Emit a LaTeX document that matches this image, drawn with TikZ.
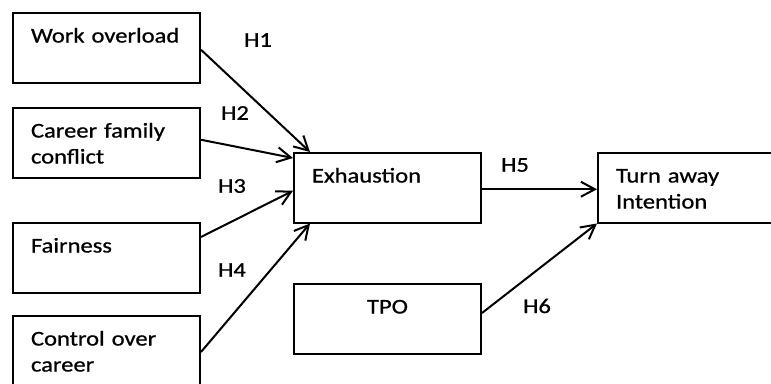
\documentclass[tikz,border=0pt]{standalone}
\usepackage{fontspec}
\setmainfont{Carlito}[FakeStretch=1.17,FakeBold=0.8]
\usetikzlibrary{arrows.meta}
\begin{document}
\begin{tikzpicture}[
    x=1pt,y=-1pt,
    construct/.style={rectangle,draw,line width=2pt,anchor=north west,inner xsep=18pt,inner ysep=0pt,text width=151pt,text height=29.5pt,text depth=40pt,align=left,font=\fontsize{21}{26}\selectfont},
    hyp/.style={font=\fontsize{21}{26}\selectfont},
    arrow/.style={-{Straight Barb[length=14pt,width=15pt]},line width=2pt}
]
    \useasboundingbox (0,0) rectangle (771,383);

    % Antecedents
    \node[construct] (overload) at (12,12) {Work overload};
    \node[construct] (conflict) at (12,107) {Career family\\conflict};
    \node[construct] (fairness) at (12,222) {Fairness};
    \node[construct,text depth=50pt] (control) at (12,315) {Control over\\career};

    % Mediator and moderator
    \node[construct] (exhaustion) at (293,152) {Exhaustion};
    \node[construct,align=center] (tpo) at (293,283) {TPO};

    % Outcome
    \node[construct] (turnaway) at (597,152) {Turn away\\Intention};

    % Arrows
    \draw[arrow] ([yshift=-2pt]overload.east) -- ([xshift=17pt]exhaustion.north west);
    \draw[arrow] ([yshift=3pt]conflict.east) -- ([yshift=-6pt]exhaustion.north west);
    \draw[arrow] ([yshift=-15pt]fairness.north east) -- ([yshift=-3pt]exhaustion.west);
    \draw[arrow] ([yshift=-37pt]control.north east) -- ([xshift=17pt]exhaustion.south west);
    \draw[arrow] ([yshift=-1.5pt]exhaustion.east) -- ([yshift=-1.5pt]turnaway.west);
    \draw[arrow] ([yshift=-30pt]tpo.north east) -- (turnaway.south west);

    % Hypotheses
    \node[hyp] (h1) at (258,40) {H1};
    \node[hyp] (h2) at (235,113) {H2};
    \node[hyp] (h3) at (232,186) {H3};
    \node[hyp] (h4) at (232,270) {H4};
    \node[hyp] (h5) at (515,165) {H5};
    \node[hyp] (h6) at (537,306) {H6};
\end{tikzpicture}
\end{document}
